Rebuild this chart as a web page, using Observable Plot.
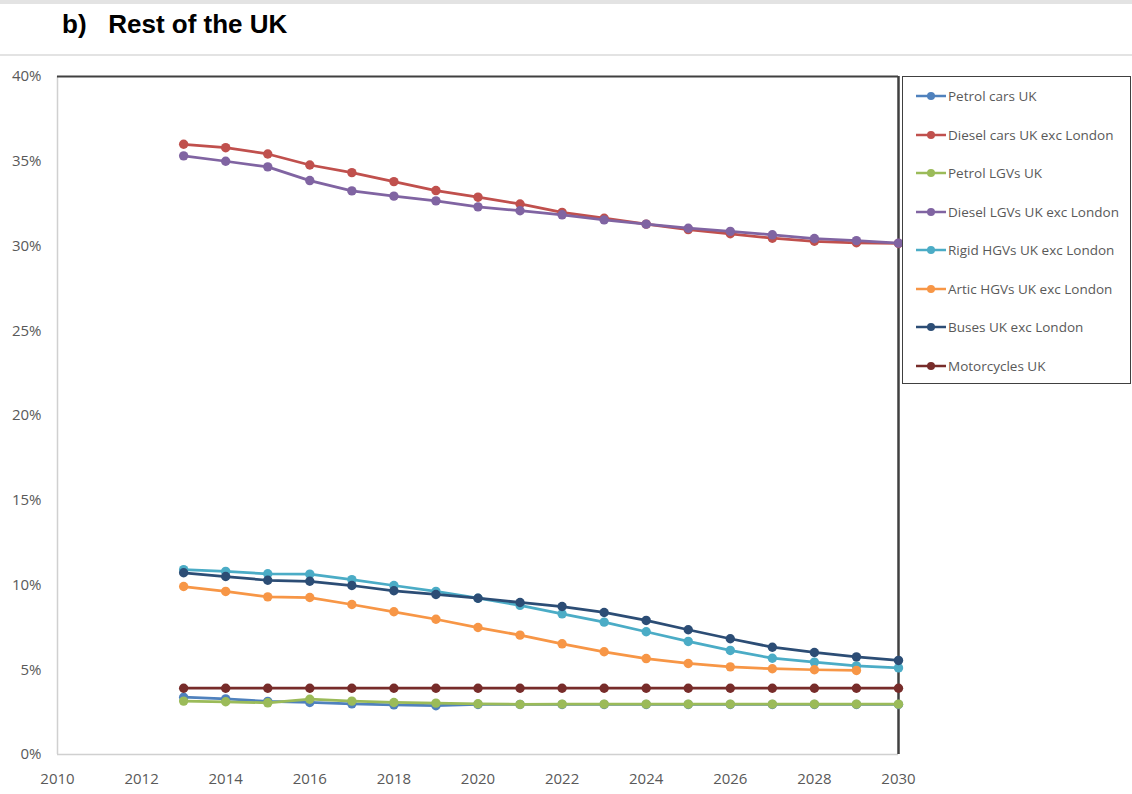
<!DOCTYPE html>
<html>
<head>
<meta charset="utf-8">
<script src="https://cdn.jsdelivr.net/npm/d3@7"></script>
<script src="https://cdn.jsdelivr.net/npm/@observablehq/plot@0.6"></script>
<style>
  html, body { margin: 0; padding: 0; background: #fff; }
  #page { position: relative; width: 1132px; height: 794px; overflow: hidden; font-family: "Open Sans", "Noto Sans", sans-serif; }
  .rule { position: absolute; left: 0; width: 1132px; background: #e3e3e3; }
  #title { position: absolute; left: 62px; top: 9px; font-family: "Liberation Sans", Arial, sans-serif; font-weight: bold; font-size: 26px; color: #000; white-space: pre; }
  #chart { position: absolute; left: 0; top: 0; }
  #legend { position: absolute; left: 902px; top: 76px; width: 227px; height: 306px; border: 1.5px solid #404040; background: #fff; }
  .item { position: absolute; left: 0; height: 20px; display: flex; align-items: center; font-size: 13.5px; color: #595959; white-space: nowrap; }
  .item svg { margin-left: 12px; margin-right: 1px; }
</style>
</head>
<body>
<div id="page">
  <div class="rule" style="top:0px;height:4px;"></div>
  <div class="rule" style="top:54px;height:2px;"></div>
  <div id="title">b)   Rest of the UK</div>
  <div id="chart"></div>
  <div id="legend"></div>
</div>
<script>
const years = [2013,2014,2015,2016,2017,2018,2019,2020,2021,2022,2023,2024,2025,2026,2027,2028,2029,2030];

const seriesNames = [
  "Petrol cars UK",
  "Diesel cars UK exc London",
  "Petrol LGVs UK",
  "Diesel LGVs UK exc London",
  "Rigid HGVs UK exc London",
  "Artic HGVs UK exc London",
  "Buses UK exc London",
  "Motorcycles UK"
];
const seriesColors = ["#4F81BD","#C0504D","#9BBB59","#8064A2","#4BACC6","#F79646","#2C4D75","#772C2A"];

const petrolCars   = [3.38,3.28,3.13,3.07,2.99,2.93,2.88,2.95,2.95,2.95,2.95,2.95,2.95,2.95,2.95,2.95,2.95,2.95];
const dieselCars   = [36.0,35.8,35.43,34.78,34.33,33.8,33.27,32.88,32.48,31.98,31.64,31.29,30.97,30.72,30.46,30.28,30.19,30.15];
const petrolLGVs   = [3.15,3.11,3.05,3.26,3.15,3.07,3.03,2.99,2.96,2.97,2.97,2.97,2.97,2.97,2.97,2.97,2.97,2.97];
const dieselLGVs   = [35.32,35.0,34.67,33.86,33.25,32.94,32.66,32.31,32.08,31.84,31.54,31.29,31.05,30.86,30.66,30.44,30.32,30.17];
const rigidHGVs    = [10.91,10.8,10.66,10.64,10.32,9.97,9.62,9.22,8.8,8.3,7.81,7.24,6.67,6.14,5.68,5.45,5.23,5.11];
const articHGVs    = [9.91,9.62,9.3,9.26,8.85,8.42,7.98,7.49,7.04,6.53,6.06,5.66,5.37,5.17,5.06,5.0,4.96,null];
const buses        = [10.72,10.5,10.28,10.22,9.97,9.66,9.44,9.22,8.97,8.73,8.38,7.91,7.36,6.83,6.33,6.02,5.76,5.55];
const motorcycles  = [3.91,3.91,3.91,3.91,3.91,3.91,3.91,3.91,3.91,3.91,3.91,3.91,3.91,3.91,3.91,3.91,3.91,3.91];

const xTicks = [2010,2012,2014,2016,2018,2020,2022,2024,2026,2028,2030];
const yTicks = [0,5,10,15,20,25,30,35,40];

const allValues = [petrolCars, dieselCars, petrolLGVs, dieselLGVs, rigidHGVs, articHGVs, buses, motorcycles];
const data = [];
allValues.forEach((vals, si) => {
  vals.forEach((v, i) => {
    if (v !== null) data.push({series: seriesNames[si], order: si, year: years[i], value: v});
  });
});

const marks = [
  Plot.ruleX([2010], {stroke: "#d0d0d0", strokeWidth: 1.5}),
  Plot.ruleY([0], {stroke: "#d0d0d0", strokeWidth: 1.5}),
  Plot.ruleY([40], {stroke: "#404040", strokeWidth: 2}),
  Plot.ruleX([2030], {stroke: "#404040", strokeWidth: 2.5}),
  Plot.axisX({ticks: xTicks, tickFormat: d => String(d), tickSize: 0, tickPadding: 19, fontSize: 15, fill: "#595959"}),
  Plot.axisY({ticks: yTicks, tickFormat: d => d + "%", tickSize: 0, tickPadding: 16, fontSize: 15, fill: "#595959"})
];
seriesNames.forEach((name, si) => {
  const d = data.filter(r => r.order === si);
  marks.push(Plot.line(d, {x: "year", y: "value", stroke: seriesColors[si], strokeWidth: 2.75}));
  marks.push(Plot.dot(d, {x: "year", y: "value", fill: seriesColors[si], r: 4.7, stroke: "none"}));
});

const chart = Plot.plot({
  width: 1132,
  height: 794,
  marginLeft: 57,
  marginRight: 234,
  marginTop: 76,
  marginBottom: 40,
  x: {domain: [2010, 2030], label: null},
  y: {domain: [0, 40], label: null},
  style: {fontFamily: "'Open Sans', 'Noto Sans', sans-serif", background: "transparent", overflow: "visible"},
  marks
});
document.getElementById("chart").appendChild(chart);

const legend = document.getElementById("legend");
seriesNames.forEach((name, i) => {
  const item = document.createElement("div");
  item.className = "item";
  item.style.top = (9 + i * 38.5) + "px";
  item.innerHTML = `<svg width="32" height="12"><line x1="1" y1="6" x2="31" y2="6" stroke="${seriesColors[i]}" stroke-width="2.5"/><circle cx="16" cy="6" r="4" fill="${seriesColors[i]}"/></svg><span>${name}</span>`;
  legend.appendChild(item);
});
</script>
</body>
</html>
